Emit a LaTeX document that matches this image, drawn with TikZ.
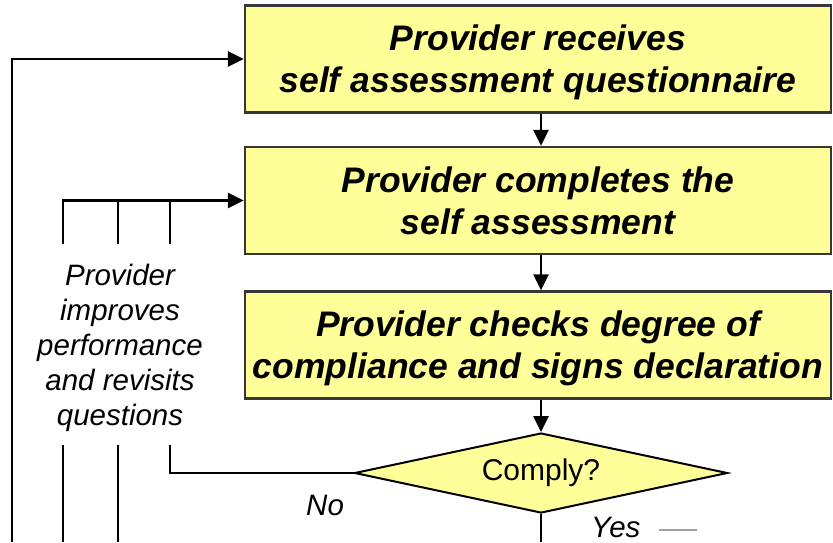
\documentclass[tikz,border=0pt]{standalone}
\usepackage{fontspec}
\setmainfont{Liberation Sans}
\usetikzlibrary{shapes.geometric,arrows.meta}
\definecolor{boxfill}{RGB}{255,255,153}
\definecolor{boxline}{RGB}{55,55,55}
\begin{document}
\begin{tikzpicture}[x=1pt,y=-1pt,
  stepbox/.style={draw=boxline,line width=2.4pt,fill=boxfill,minimum width=586pt,minimum height=107pt,
    inner sep=0pt,align=center,font=\fontsize{35.5}{42}\selectfont\bfseries\itshape},
  decision/.style={diamond,draw=black,line width=2pt,fill=boxfill,minimum width=373pt,minimum height=80pt,
    aspect=4.66,inner sep=0pt,font=\fontsize{30}{34}\selectfont},
  lbl/.style={font=\fontsize{29.5}{35}\selectfont\itshape,inner sep=0pt},
  conn/.style={line width=2.6pt,draw=black},
  arr/.style={conn,-{Triangle[length=16pt,width=15pt]}}]
\useasboundingbox (0,0) rectangle (833,542);
\node[stepbox] (b1) at (538,59) {Provider receives\\\smash{self assessment questionnaire}};
\node[stepbox] (b2) at (538,200.5) {Provider completes the\\\smash{self assessment}};
\node[stepbox] (b3) at (538,345) {Provider checks degree of\\\smash{compliance and signs declaration}};
\node[decision] (d) at (541,473) {Comply?};
\draw[arr] (d.north |- b1.south) -- (d.north |- b2.north);
\draw[arr] (d.north |- b2.south) -- (d.north |- b3.north);
\draw[arr] (d.north |- b3.south) -- (d.north);
\draw[conn] (d.south) -- (541,542);
% outer loop
\coordinate (o1) at (12,542);
\draw[arr] (o1) |- (b1.west);
% inner loop
\coordinate (i1) at (63,244);
\coordinate (i2) at (118,244);
\coordinate (i3) at (170,244);
\draw[arr] (i1) |- (b2.west);
\draw[conn] (i2) -- (i2 |- b2.west);
\draw[conn] (i3) -- (i3 |- b2.west);
\node[lbl,align=center,anchor=base] (imp) at (120,425) {Provider\\improves\\performance\\and revisits\\questions};
\coordinate (j1) at (63,445);
\coordinate (j2) at (118,445);
\coordinate (j3) at (170,445);
\draw[conn] (j1) -- (63,542);
\draw[conn] (j2) -- (118,542);
\draw[conn] (j3) |- (d.west);
\node[lbl,anchor=base west] (no) at (306,515) {No};
\node[lbl,anchor=base west] (yes) at (591,537) {Yes};
\draw[line width=2.2pt,draw=gray!75] (659,530) -- (697,530);
\end{tikzpicture}
\end{document}
